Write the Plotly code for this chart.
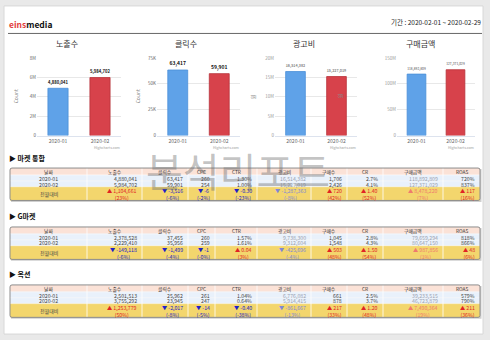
import plotly.graph_objects as go

W, H = 490, 340
FONT = "Noto Sans CJK KR, Noto Sans, sans-serif"

# ---------------- data ----------------
months = ["2020-01", "2020-02"]
impressions = [4880041, 5984702]
clicks = [63417, 59901]
ad_cost = [16514382, 15227019]
revenue = [118892809, 127371029]

chart_titles = ["노출수", "클릭수", "광고비", "구매금액"]
yaxis_titles = ["Count", "Count", "원", "원"]
ytick_vals = [[0, 2e6, 4e6, 6e6, 8e6], [0, 25000, 50000, 75000],
              [0, 5e6, 10e6, 15e6, 20e6], [0, 50e6, 100e6, 150e6]]
ytick_text = [["0", "2M", "4M", "6M", "8M"], ["0", "25K", "50K", "75K"],
              ["0", "5M", "10M", "15M", "20M"], ["0", "50M", "100M", "150M"]]
bar_colors = ["#5fa2e8", "#d7424b"]
bar_lines = ["#4a8fd8", "#b8323a"]

table_headers = ["날짜", "노출수", "클릭수", "CPC", "CTR", "광고비", "구매수", "CR", "구매금액", "ROAS"]
section_names = ["▶ 마켓 통합", "▶ G마켓", "▶ 옥션"]
diff_label = "전월대비"

total_rows = [["2020-01", "4,880,041", "63,417", "260", "1.30%", "16,514,382", "1,706", "2.7%", "118,892,809", "720%"],
              ["2020-02", "5,984,702", "59,901", "254", "1.00%", "15,227,019", "2,426", "4.1%", "127,371,029", "837%"]]
total_diff = [("1,104,661", "23%"), ("-3,516", "-6%"), ("-6", "-2%"), ("-0.30", "-23%"),
              ("-1,287,363", "-8%"), ("720", "42%"), ("1.40", "52%"), ("8,478,220", "7%"), ("117", "16%")]

gmarket_rows = [["2020-01", "2,378,528", "37,455", "260", "1.57%", "9,738,300", "1,045", "2.8%", "79,659,294", "818%"],
                ["2020-02", "2,229,410", "35,956", "259", "1.61%", "9,312,604", "1,548", "4.3%", "80,647,150", "866%"]]
gmarket_diff = [("-149,118", "-6%"), ("-1,499", "-4%"), ("-1", "-0%"), ("0.04", "3%"),
                ("-425,696", "-4%"), ("503", "48%"), ("1.50", "54%"), ("987,856", "1%"), ("48", "6%")]

auction_rows = [["2020-01", "2,501,513", "25,962", "261", "1.04%", "6,776,082", "661", "2.5%", "39,233,515", "579%"],
                ["2020-02", "3,755,292", "23,945", "247", "0.64%", "5,914,415", "878", "3.7%", "46,723,879", "790%"]]
auction_diff = [("1,253,779", "50%"), ("-2,017", "-8%"), ("-14", "-5%"), ("-0.40", "-38%"),
                ("-861,667", "-13%"), ("217", "33%"), ("1.20", "48%"), ("7,490,364", "19%"), ("211", "36%")]

# ---------------- helpers ----------------
def px(x):
    return x / W


def py(y):
    return 1 - y / H


shapes = []
annos = []


def text(x, y, s, size=6, color="#333", xanchor="center", yanchor="middle", bold=False, align="center"):
    annos.append(dict(x=px(x), y=py(y), xref="paper", yref="paper", text=s, showarrow=False,
                      xanchor=xanchor, yanchor=yanchor, align=align, borderpad=0,
                      font=dict(family=FONT, size=size, color=color, weight="bold" if bold else "normal")))


def rect(x0, y0, x1, y1, fill, line=None, lw=0, layer="above"):
    shapes.append(dict(type="rect", xref="paper", yref="paper", x0=px(x0), x1=px(x1), y0=py(y1), y1=py(y0),
                       fillcolor=fill, line=dict(color=line or fill, width=lw), layer=layer))


def hline(x0, x1, y, color, w=1):
    shapes.append(dict(type="line", xref="paper", yref="paper", x0=px(x0), x1=px(x1), y0=py(y), y1=py(y),
                       line=dict(color=color, width=w)))


def vline(x, y0, y1, color, w=1):
    shapes.append(dict(type="line", xref="paper", yref="paper", x0=px(x), x1=px(x), y0=py(y0), y1=py(y1),
                       line=dict(color=color, width=w)))


# ---------------- page frame ----------------
rect(4, 3, 483, 337, "#ffffff", "#d8d8d8", 1, layer="below")

text(8, 21, "<span style='color:#e23c3a'>eins</span>media", size=8.5, color="#111",
     xanchor="left", bold=True)
text(482, 19, "기간 : 2020-02-01 ~ 2020-02-29", size=6.5, color="#222", xanchor="right")
hline(8, 482, 31, "#666666", 1)

# ---------------- bar charts ----------------
fig = go.Figure()
chart_px = [dict(x0=37, x1=121, tx=67, yt=15),
            dict(x0=157, x1=240, tx=186, yt=137),
            dict(x0=275, x1=357, tx=304, yt=252),
            dict(x0=397, x1=475, tx=420, yt=339)]
series = [impressions, clicks, ad_cost, revenue]
blurred = [False, False, True, True]
ytop, ybot = 56, 135

layout_axes = {}
for i, (cp, vals) in enumerate(zip(chart_px, series)):
    n = "" if i == 0 else str(i + 1)
    labels = [f"{v:,}" for v in vals]
    fig.add_trace(go.Bar(
        x=months, y=vals, xaxis="x" + n, yaxis="y" + n, width=0.48,
        marker=dict(color=bar_colors, line=dict(color=bar_lines, width=0.8)),
        text=labels, textposition="outside", cliponaxis=False,
        textfont=dict(family=FONT, size=5, color="#888" if blurred[i] else "#111", weight="bold"),
        hoverinfo="skip", showlegend=False))
    layout_axes["xaxis" + n] = dict(domain=[px(cp["x0"]), px(cp["x1"])], anchor="y" + n, type="category",
                                    range=[-0.5, 1.5], showgrid=False, ticks="", showline=True,
                                    linecolor="#dde3ee", linewidth=1,
                                    tickfont=dict(family=FONT, size=5, color="#666"), fixedrange=True)
    layout_axes["yaxis" + n] = dict(domain=[py(ybot), py(ytop)], anchor="x" + n,
                                    range=[0, ytick_vals[i][-1]], tickvals=ytick_vals[i], ticktext=ytick_text[i],
                                    showgrid=True, gridcolor="#e8e8e8", gridwidth=1, zeroline=False,
                                    ticks="", showline=False,
                                    tickfont=dict(family=FONT, size=4.5, color="#999" if blurred[i] else "#666"),
                                    fixedrange=True)
    text(cp["tx"], 41, chart_titles[i], size=8, color="#333")
    annos.append(dict(x=px(cp["yt"]), y=py(95), xref="paper", yref="paper", text=yaxis_titles[i],
                      showarrow=False, textangle=-90, xanchor="center", yanchor="middle",
                      font=dict(family=FONT, size=5, color="#888")))
    text(cp["x1"], 147, "Highcharts.com", size=3.5, color="#999", xanchor="right")

# ---------------- tables ----------------
col_edges = [10, 87, 142, 188, 215, 257, 311, 347, 383, 443, 480]
HDR, ROW, YEL = "#fbe2d7", "#e9f1fb", "#f3d66d"
RED, BLUE = "#e02424", "#2020c8"
blur_cols = {5, 8}
CELL = 5.2


def draw_table(title, title_y, top, rows, diffs):
    text(8, title_y, title, size=7, color="#111", xanchor="left", bold=True)
    ys = [top, top + 7, top + 13, top + 19, top + 33]
    x0, x1 = col_edges[0], col_edges[-1]
    # shadow
    rect(x0 + 1, top + 1, x1 + 1.5, ys[-1] + 1.5, "#cfcfcf")
    fills = [HDR, ROW, ROW, YEL]
    for r in range(4):
        rect(x0, ys[r], x1, ys[r + 1], fills[r])
    for r in range(1, 4):
        hline(x0, x1, ys[r], "#ffffff", 0.6)
    for c in col_edges[1:-1]:
        vline(c, ys[0], ys[-1], "#ffffff", 0.8)
    # outer rounded border
    rr = 2
    path = (f"M {px(x0+rr)},{py(top)} L {px(x1-rr)},{py(top)} Q {px(x1)},{py(top)} {px(x1)},{py(top+rr)} "
            f"L {px(x1)},{py(ys[-1]-rr)} Q {px(x1)},{py(ys[-1])} {px(x1-rr)},{py(ys[-1])} "
            f"L {px(x0+rr)},{py(ys[-1])} Q {px(x0)},{py(ys[-1])} {px(x0)},{py(ys[-1]-rr)} "
            f"L {px(x0)},{py(top+rr)} Q {px(x0)},{py(top)} {px(x0+rr)},{py(top)} Z")
    shapes.append(dict(type="path", xref="paper", yref="paper", path=path,
                       line=dict(color="#8d8d8d", width=1)))
    # header
    for c, h in enumerate(table_headers):
        text((col_edges[c] + col_edges[c + 1]) / 2, (ys[0] + ys[1]) / 2 + 0.3, h, size=4.8, color="#333")
    # data rows
    for r, row in enumerate(rows):
        yc = (ys[r + 1] + ys[r + 2]) / 2 + 0.3
        for c, v in enumerate(row):
            col = "#9aa1b2" if c in blur_cols else "#444"
            if c == 0:
                text((col_edges[0] + col_edges[1]) / 2, yc, v, size=CELL, color=col)
            else:
                text(col_edges[c + 1] - 4, yc, v, size=CELL, color=col, xanchor="right")
    # diff row
    yc = (ys[3] + ys[4]) / 2 + 0.3
    text((col_edges[0] + col_edges[1]) / 2, yc, diff_label, size=5, color="#444")
    for c, (v, p) in enumerate(diffs, start=1):
        down = v.startswith("-")
        col = BLUE if down else RED
        if c in blur_cols:
            col = "#7f86d8" if down else "#ef7b6e"
        arrow = "▼" if down else "▲"
        text(col_edges[c + 1] - 4, yc, f"{arrow} {v}<br>({p})", size=CELL, color=col,
             xanchor="right", align="center")


draw_table(section_names[0], 158, 168, total_rows, total_diff)
draw_table(section_names[1], 217, 228, gmarket_rows, gmarket_diff)
draw_table(section_names[2], 276, 287, auction_rows, auction_diff)

# watermark
text(238, 170, "분석리포트", size=40, color="rgba(110,110,110,0.42)")

fig.update_layout(width=W, height=H, autosize=False, margin=dict(l=0, r=0, t=0, b=0),
                  paper_bgcolor="#e9e9e9", plot_bgcolor="#ffffff",
                  font=dict(family=FONT), shapes=shapes, annotations=annos, **layout_axes)

fig.write_html("out.html", config={"displayModeBar": False})
